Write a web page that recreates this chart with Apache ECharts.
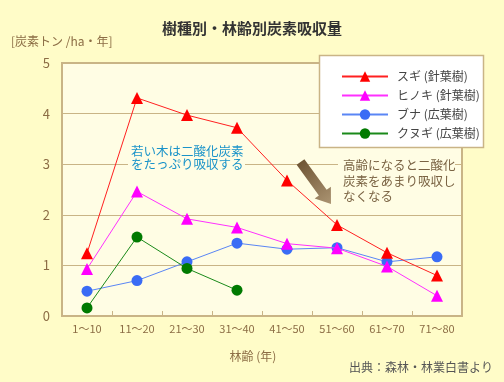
<!DOCTYPE html>
<html>
<head>
<meta charset="utf-8">
<script src="https://cdn.jsdelivr.net/npm/echarts@6/dist/echarts.min.js"></script>
<style>
html,body{margin:0;padding:0;background:#fffcc8;}
#main{width:504px;height:382px;}
</style>
</head>
<body>
<div id="main"></div>
<script>
const categories = ['1〜10','11〜20','21〜30','31〜40','41〜50','51〜60','61〜70','71〜80'];
const sugi   = [1.24, 4.31, 3.97, 3.72, 2.68, 1.80, 1.25, 0.80];
const hinoki = [0.93, 2.46, 1.92, 1.75, 1.43, 1.34, 0.98, 0.40];
const buna   = [0.49, 0.70, 1.07, 1.44, 1.32, 1.35, 1.07, 1.17];
const kunugi = [0.16, 1.56, 0.94, 0.51];
const seriesNames = ['スギ (針葉樹)','ヒノキ (針葉樹)','ブナ (広葉樹)','クヌギ (広葉樹)'];
const yMin = 0, yMax = 5, yStep = 1;

const FONT = '"Noto Sans CJK JP", "Noto Sans", sans-serif';
const BROWN = '#8c6d45';
const TAN = '#c9b486';
const PLOT_BG = '#fffde4';

const chart = echarts.init(document.getElementById('main'), null, {renderer:'canvas'});

// arrow polygon (annotation graphic)
function arrowPoints(sx, sy, ex, ey, shaftHalf, headHalf, headLen){
  const dx = ex - sx, dy = ey - sy, L = Math.hypot(dx, dy);
  const ux = dx / L, uy = dy / L, nx = -uy, ny = ux;
  const p = (a, b) => [sx + a*ux + b*nx, sy + a*uy + b*ny];
  const hb = L - headLen;
  return [p(0, -shaftHalf), p(hb, -shaftHalf), p(hb, -headHalf), p(L, 0), p(hb, headHalf), p(hb, shaftHalf), p(0, shaftHalf)];
}

const option = {
  backgroundColor: '#fffcc8',
  textStyle: {fontFamily: FONT},
  title: {
    text: '樹種別・林齢別炭素吸収量',
    left: 'center', top: 16,
    textStyle: {fontFamily: FONT, fontSize: 15, fontWeight: 'bold', color: '#333'}
  },
  grid: {
    left: 62, right: 42, top: 63, bottom: 66,
    show: true, backgroundColor: PLOT_BG, borderColor: TAN, borderWidth: 2
  },
  legend: {
    orient: 'vertical', left: 336, top: 65, z: 10,
    itemWidth: 46, itemHeight: 13, itemGap: 6,
    textStyle: {fontFamily: FONT, fontSize: 12, color: '#444', padding: [0,0,0,4], lineHeight: 13},
    data: seriesNames
  },
  xAxis: {
    type: 'category', data: categories, boundaryGap: true,
    axisLine: {show: false},
    axisTick: {show: true, inside: true, length: 5, lineStyle: {color: TAN}},
    axisLabel: {color: BROWN, fontSize: 11, margin: 7, interval: 0, fontFamily: FONT},
    splitLine: {show: false}
  },
  yAxis: {
    type: 'value', min: yMin, max: yMax, interval: yStep,
    axisLine: {show: false}, axisTick: {show: false},
    axisLabel: {color: BROWN, fontSize: 13, margin: 12, fontFamily: FONT},
    splitLine: {show: true, lineStyle: {color: TAN, width: 1}}
  },
  series: [
    {name: seriesNames[0], type: 'line', data: sugi, symbol: 'triangle', symbolSize: 12,
     color: '#ff0000', lineStyle: {color: '#ff2020', width: 1}, z: 5},
    {name: seriesNames[1], type: 'line', data: hinoki, symbol: 'triangle', symbolSize: 12,
     color: '#ff00ff', lineStyle: {color: '#ff30ff', width: 1}, z: 4},
    {name: seriesNames[2], type: 'line', data: buna, symbol: 'circle', symbolSize: 11,
     color: '#3a6cf5', lineStyle: {color: '#5a86f5', width: 1}, z: 3},
    {name: seriesNames[3], type: 'line', data: kunugi, symbol: 'circle', symbolSize: 11,
     color: '#007a00', lineStyle: {color: '#1a8a1a', width: 1}, z: 3}
  ],
  graphic: [
    {type: 'rect', z: 9, shape: {x: 319.5, y: 55.5, width: 164, height: 92},
     style: {fill: '#ffffff', stroke: TAN, lineWidth: 1.5}},
    {type: 'text', left: 11, top: 35, z: 10,
     style: {text: '[炭素トン /ha・年]', fill: BROWN, font: '12px ' + FONT}},
    // blue annotation
    {type: 'rect', z: 6, shape: {x: 128, y: 143, width: 117, height: 32}, style: {fill: PLOT_BG}},
    {type: 'text', x: 131, y: 151, z: 7,
     style: {text: '若い木は二酸化炭素', fill: '#1a93c9', font: '12.5px ' + FONT, textVerticalAlign: 'middle'}},
    {type: 'text', x: 131, y: 164.5, z: 7,
     style: {text: 'をたっぷり吸収する', fill: '#1a93c9', font: '12.5px ' + FONT, textVerticalAlign: 'middle'}},
    // brown annotation
    {type: 'rect', z: 6, shape: {x: 338, y: 157, width: 117, height: 48}, style: {fill: PLOT_BG}},
    {type: 'text', x: 343, y: 165.5, z: 7,
     style: {text: '高齢になると二酸化', fill: '#7a6343', font: '12.5px ' + FONT, textVerticalAlign: 'middle'}},
    {type: 'text', x: 343, y: 181, z: 7,
     style: {text: '炭素をあまり吸収し', fill: '#7a6343', font: '12.5px ' + FONT, textVerticalAlign: 'middle'}},
    {type: 'text', x: 343, y: 196.5, z: 7,
     style: {text: 'なくなる', fill: '#7a6343', font: '12.5px ' + FONT, textVerticalAlign: 'middle'}},
    {type: 'polygon', z: 7,
     shape: {points: arrowPoints(300.5, 162, 331, 204, 4.8, 10, 14)},
     style: {fill: new echarts.graphic.LinearGradient(0, 0, 1, 1, [
       {offset: 0, color: '#6a5030'}, {offset: 1, color: '#ab9472'}])}},
    {type: 'text', x: 253, y: 356, z: 10,
     style: {text: '林齢 (年)', fill: BROWN, font: '12px ' + FONT, textAlign: 'center', textVerticalAlign: 'middle'}},
    {type: 'text', x: 493, y: 367, z: 10,
     style: {text: '出典：森林・林業白書より', fill: '#555', font: '12px ' + FONT, textAlign: 'right', textVerticalAlign: 'middle'}}
  ]
};
chart.setOption(option);
</script>
</body>
</html>
